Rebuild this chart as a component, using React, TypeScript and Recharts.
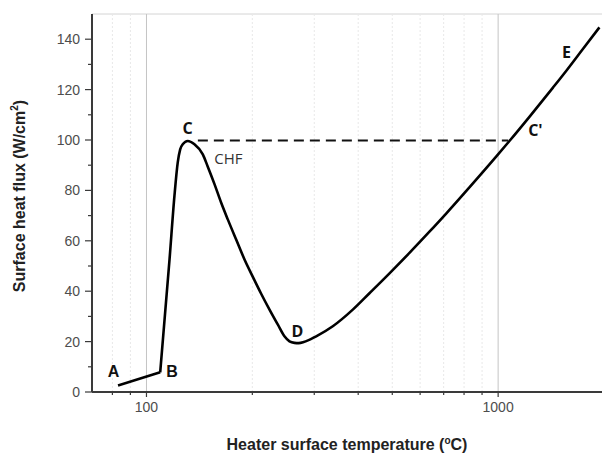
import React from 'react'
import {
  LineChart,
  Line,
  XAxis,
  YAxis,
  CartesianGrid,
  ReferenceLine,
  ReferenceDot,
} from 'recharts'

// Natural convection branch A -> B
const convT = [83, 109.4]
const convQ = [2.6, 7.8]

// Nucleate, transition and film boiling, B -> E
const boilT = [
  109.4, 116.3, 120.1, 122.7, 124.7, 126.8, 131.0, 136.9, 144.6, 149.4, 156.1, 163.1,
  170.3, 179.9, 190.0, 200.5, 211.9, 223.8, 236.2, 246.8, 255.1, 263.5, 271, 280,
  303.8, 338.7, 386.1, 430.6, 491.0, 559.6, 637.8, 711.5, 828.6, 987.0, 1076.7, 1227.3,
  1430.1, 1561.0, 1739.6, 1941,
]
const boilQ = [
  7.8, 52.6, 77.8, 91.0, 96.3, 98.3, 99.6, 98.3, 94.3, 89.4, 82.5, 75.1,
  68.5, 60.5, 52.6, 45.8, 39.0, 32.7, 26.8, 22.1, 20.1, 19.5, 19.4, 19.8,
  22.1, 26.1, 32.7, 39.2, 47.1, 55.2, 63.6, 70.8, 81.2, 93.4, 99.6, 109.2,
  120.7, 127.4, 136.0, 144.7,
]

// Critical heat flux level, drawn from the peak across to C'
const chfQ = 99.8
const chfFrom = 140
const chfTo = 1068

const xTicks = [80, 90, 100, 200, 300, 400, 500, 600, 700, 800, 900, 1000]
const xMajor = [100, 1000]
const yTicks = [0, 10, 20, 30, 40, 50, 60, 70, 80, 90, 100, 110, 120, 130, 140, 150]
const yMajor = [0, 20, 40, 60, 80, 100, 120, 140]

const pointNames = ['A', 'B', 'C', 'CHF', 'D', "C'", 'E']
const pointT = [80.6, 118.2, 130.8, 171, 268.7, 1276, 1564]
const pointQ = [8.1, 8.1, 104.6, 92.7, 24.4, 103.9, 135]

const convData = convT.map((t, i) => ({ t, q: convQ[i] }))
const boilData = boilT.map((t, i) => ({ t, q: boilQ[i] }))

const AXIS = '#3a3a3a'
const TICK_TEXT = '#4d4d4d'

const BottomTick = (props: any) => {
  const { x, y, payload } = props
  const major = xMajor.includes(payload.value)
  return (
    <g>
      <line x1={x} x2={x} y1={y} y2={y + (major ? 5 : 3)} stroke={AXIS} strokeWidth={1.2} />
      {major && (
        <text x={x} y={y + 20} textAnchor="middle" fontSize={14} fill={TICK_TEXT}
          fontFamily="Liberation Sans, Arial, sans-serif">
          {payload.value}
        </text>
      )}
    </g>
  )
}

const TopTick = (props: any) => {
  const { x, y, payload } = props
  const major = xMajor.includes(payload.value)
  return <line x1={x} x2={x} y1={y} y2={y - (major ? 7 : 3)} stroke={AXIS} strokeWidth={1.4} />
}

const LeftTick = (props: any) => {
  const { x, y, payload } = props
  const major = yMajor.includes(payload.value)
  if (payload.value === 150) return null
  return (
    <g>
      <line x1={x} x2={x - (major ? 7 : 4)} y1={y} y2={y} stroke={AXIS} strokeWidth={1.2} />
      {major && (
        <text x={x - 12} y={y} textAnchor="end" dominantBaseline="central" fontSize={14}
          fill={TICK_TEXT} fontFamily="Liberation Sans, Arial, sans-serif">
          {payload.value}
        </text>
      )}
    </g>
  )
}

const XTitle = (props: any) => {
  const { viewBox } = props
  const cx = viewBox.x + viewBox.width / 2
  return (
    <text x={cx - 1} y={450} textAnchor="middle" fontSize={16} fontWeight="bold" fill="#222"
      fontFamily="Liberation Sans, Arial, sans-serif">
      Heater surface temperature (
      <tspan fontSize={10} dy={-6}>o</tspan>
      <tspan dy={6}>C)</tspan>
    </text>
  )
}

const YTitle = () => (
  <text x={25} y={196} transform="rotate(-90 25 196)" textAnchor="middle" fontSize={16}
    fontWeight="bold" fill="#222" fontFamily="Liberation Sans, Arial, sans-serif">
    Surface heat flux (W/cm
    <tspan fontSize={10} dy={-7}>2</tspan>
    <tspan dy={7}>)</tspan>
  </text>
)

const PointLabel = (name: string) => (props: any) => {
  const { viewBox } = props
  const cx = viewBox.x + (viewBox.width || 0) / 2
  const cy = viewBox.y + (viewBox.height || 0) / 2
  const arial = name === 'A' || name === 'B'
  const chf = name === 'CHF'
  return (
    <text x={cx} y={cy} textAnchor="middle" dominantBaseline="central"
      fontSize={chf ? 15 : 16} fontWeight={chf ? 'normal' : 'bold'}
      fill={chf ? '#333' : '#111'}
      fontFamily={arial ? 'Liberation Sans, Arial, sans-serif' : 'Open Sans, sans-serif'}>
      {name}
    </text>
  )
}

export default function App() {
  return (
    <div style={{ position: 'absolute', left: 0, top: 0, width: 602, height: 456, overflow: 'hidden', background: '#fff' }}>
      <LineChart width={610} height={456} margin={{ top: 14, right: 6, bottom: 0, left: 0 }}>
        <CartesianGrid vertical={false} stroke="#d4d4d4" strokeWidth={1} />
        {xTicks.map(t => (
          <ReferenceLine key={t} xAxisId="b" yAxisId="l" x={t}
            stroke={xMajor.includes(t) ? '#c4c4c4' : '#e8e8e8'}
            strokeDasharray={xMajor.includes(t) ? undefined : '2 2'}
            strokeWidth={1} />
        ))}
        <XAxis xAxisId="b" dataKey="t" type="number" scale="log" domain={[70, 2000]} ticks={xTicks}
          allowDataOverflow orientation="bottom" height={64} interval={0}
          tickLine={false} tickSize={0} tickMargin={0} tick={<BottomTick />}
          axisLine={{ stroke: AXIS, strokeWidth: 2 }} label={<XTitle />} />
        <XAxis xAxisId="t" dataKey="t" type="number" scale="log" domain={[70, 2000]} ticks={xTicks}
          allowDataOverflow orientation="top" height={0} interval={0}
          tickLine={false} tickSize={0} tickMargin={0} tick={<TopTick />}
          axisLine={{ stroke: AXIS, strokeWidth: 2 }} />
        <YAxis yAxisId="l" type="number" domain={[0, 150]} ticks={yTicks} width={92} interval={0}
          tickLine={false} tickSize={0} tickMargin={0} tick={<LeftTick />}
          axisLine={{ stroke: AXIS, strokeWidth: 2 }} />
        <ReferenceLine xAxisId="b" yAxisId="l"
          segment={[{ x: chfFrom, y: chfQ }, { x: chfTo, y: chfQ }]}
          stroke="#111" strokeWidth={2} strokeDasharray="10 6" />
        <Line xAxisId="b" yAxisId="l" data={convData} dataKey="q" type="linear" stroke="#000"
          strokeWidth={2.6} dot={false} isAnimationActive={false} />
        <Line xAxisId="b" yAxisId="l" data={boilData} dataKey="q" type="monotone" stroke="#000"
          strokeWidth={2.6} dot={false} isAnimationActive={false} />
        {pointNames.map((n, i) => (
          <ReferenceDot key={n} xAxisId="b" yAxisId="l" x={pointT[i]} y={pointQ[i]} r={0}
            stroke="none" fill="none" label={PointLabel(n)} />
        ))}
        <YTitle />
      </LineChart>
    </div>
  )
}
